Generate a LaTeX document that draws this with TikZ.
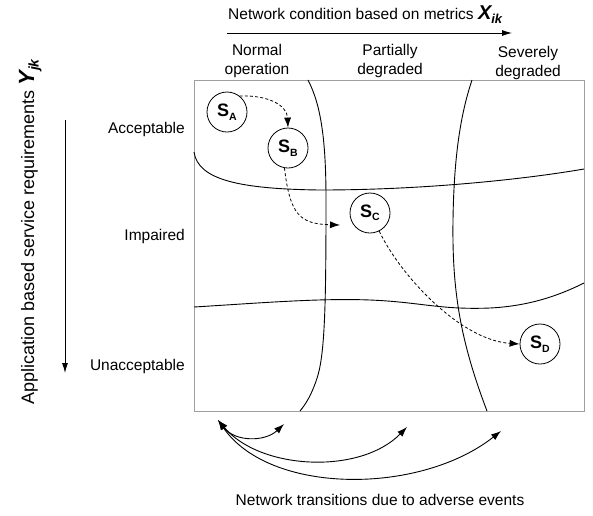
\documentclass[tikz,border=0pt]{standalone}
\usepackage{fontspec}
\setmainfont{Liberation Sans}
\usetikzlibrary{arrows.meta}
\newcommand\stlabel[1]{{\fontsize{18}{18}\selectfont\bfseries S\raisebox{-3.5pt}{\fontsize{10.5}{10.5}\selectfont #1}}}
\begin{document}
\begin{tikzpicture}[x=1pt,y=-1pt,
  lbl/.style={font=\fontsize{15.5}{19}\selectfont, inner sep=0pt},
  vlbl/.style={font=\fontsize{18}{21}\selectfont, inner sep=0pt},
  state/.style={circle, draw, line width=0.8pt, minimum size=40pt, inner sep=0pt},
  region/.style={line width=0.9pt},
  move/.style={line width=0.8pt, dash pattern=on 3pt off 2.2pt, -{Latex[length=10pt,width=7pt]}},
  trans/.style={line width=0.9pt, {Latex[length=10pt,width=7pt]}-{Latex[length=10pt,width=7pt]}},
  axis/.style={line width=0.9pt, -{Latex[length=10pt,width=6pt]}}]
\useasboundingbox (0,0) rectangle (593,515);
% frame
\node[draw=gray!75, line width=1pt, minimum width=390pt, minimum height=331pt, inner sep=0pt, anchor=north west] (frame) at (194,80) {};
% region borders
\draw[region] (308,80) .. controls (321,105) and (326,140) .. (326,200)
  .. controls (326,300) and (325,350) .. (318,375) .. controls (312,395) and (305,405) .. (300,411);
\draw[region] (472,80) .. controls (462,110) and (454,150) .. (453,220)
  .. controls (452,290) and (460,340) .. (487,411);
\draw[region] (194,152) .. controls (198,180) and (240,189) .. (320,190)
  .. controls (420,190) and (520,180) .. (584,169);
\draw[region] (194,307) .. controls (260,303) and (320,298) .. (370,300)
  .. controls (420,302) and (440,310) .. (490,308) .. controls (530,306) and (560,295) .. (584,283);
% top axis
\node[lbl, anchor=base west] (xt) at (228,19) {Network condition based on metrics {\fontsize{20}{20}\selectfont\bfseries\itshape X\raisebox{-4pt}{\fontsize{13}{13}\selectfont ik}}};
\coordinate (xa) at (227,33);
\coordinate (xb) at (512,33);
\draw[axis] (xa) -- (xb);
\node[lbl, align=center, anchor=north] (c1) at (257,44) {Normal\\operation};
\node[lbl, align=center, anchor=north] (c2) at (390,44) {Partially\\degraded};
\node[lbl, align=center, anchor=north] (c3) at (528,46) {Severely\\degraded};
% left axis
\node[vlbl, rotate=90, anchor=base] (yt) at (34,232) {Application based service requirements {\fontsize{22}{22}\selectfont\bfseries\itshape Y\raisebox{-4.5pt}{\fontsize{14}{14}\selectfont jk}}};
\coordinate (ya) at (65,120);
\coordinate (yb) at (65,373);
\draw[axis] (ya) -- (yb);
\node[lbl, anchor=base east] (r1) at (185,133) {Acceptable};
\node[lbl, anchor=base east] (r2) at (185,240) {Impaired};
\node[lbl, anchor=base east] (r3) at (185,370) {Unacceptable};
% states
\node[state] (SA) at (227,112) {\stlabel{A}};
\node[state] (SB) at (288,148) {\stlabel{B}};
\node[state] (SC) at (370,213) {\stlabel{C}};
\node[state] (SD) at (540,344) {\stlabel{D}};
\coordinate (cin) at (340,225);
\draw[move] (SA.52) .. controls (268,95) and (287,105) .. (SB.north);
\draw[move] (SB.-100) .. controls (290,215) and (300,224) .. (cin);
\draw[move] (SC.-63) .. controls (400,275) and (460,340) .. (SD.west);
% transitions
\coordinate (t0) at (218,420);
\coordinate (t1) at (284,424);
\coordinate (t2) at (407,427);
\coordinate (t3) at (501,431);
\draw[trans] (t0) .. controls (235,442) and (265,442) .. (t1);
\draw[trans] (t0) .. controls (260,470) and (360,475) .. (t2);
\draw[trans] (t0) .. controls (270,495) and (420,495) .. (t3);
\node[lbl, anchor=base] (bt) at (380,505) {Network transitions due to adverse events};
\end{tikzpicture}
\end{document}
